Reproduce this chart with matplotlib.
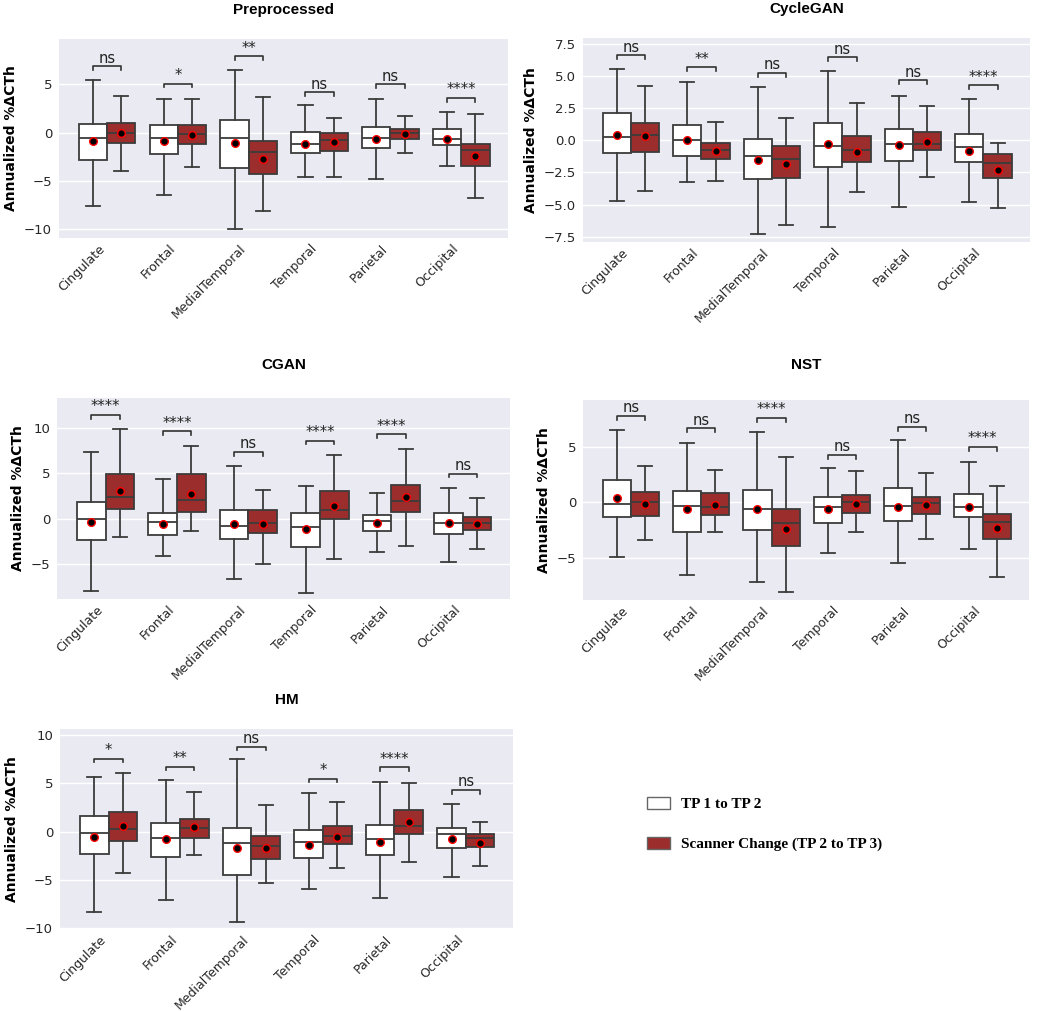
import matplotlib
matplotlib.use("Agg")
import matplotlib.pyplot as plt
from matplotlib.patches import Patch
import numpy as np

regions = ["Cingulate", "Frontal", "MedialTemporal", "Temporal", "Parietal", "Occipital"]

# rows per region: whisker low, Q1, median, Q3, whisker high, mean
pre_tp12 = [[-7.6, -2.86, -0.51, 0.95, 5.48, -0.85],
            [-6.5, -2.24, -0.51, 0.75, 3.50, -0.85],
            [-9.97, -3.64, -0.51, 1.29, 6.46, -1.05],
            [-4.56, -2.14, -1.16, 0.03, 2.82, -1.16],
            [-4.8, -1.63, -0.54, 0.58, 3.50, -0.65],
            [-3.44, -1.29, -0.65, 0.37, 2.14, -0.65]]
pre_scan = [[-3.95, -1.02, 0.0, 0.99, 3.84, -0.07],
            [-3.54, -1.19, -0.17, 0.75, 3.54, -0.20],
            [-8.06, -4.32, -2.04, -0.82, 3.67, -2.69],
            [-4.56, -1.94, -0.71, 0.0, 1.56, -0.99],
            [-2.14, -0.68, -0.07, 0.37, 1.73, -0.14],
            [-6.8, -3.44, -1.77, -1.16, 1.90, -2.38]]
pre_sig = ["ns", "*", "**", "ns", "ns", "****"]
pre_sig_y = [6.87, 5.07, 7.89, 4.18, 5.0, 3.6]

cyc_tp12 = [[-4.69, -1.0, 0.26, 2.14, 5.52, 0.39],
            [-3.25, -1.21, 0.0, 1.16, 4.54, 0.0],
            [-7.24, -2.99, -1.24, 0.13, 4.15, -1.52],
            [-6.73, -2.11, -0.44, 1.31, 5.36, -0.28],
            [-5.18, -1.57, -0.31, 0.90, 3.48, -0.39],
            [-4.77, -1.68, -0.52, 0.46, 3.22, -0.80]]
cyc_scan = [[-3.97, -0.88, 0.39, 1.34, 4.20, 0.31],
            [-3.17, -1.44, -0.77, -0.23, 1.39, -0.80],
            [-6.55, -2.94, -1.44, -0.44, 1.70, -1.86],
            [-4.02, -1.65, -0.72, 0.31, 2.91, -0.93],
            [-2.86, -0.75, -0.26, 0.62, 2.65, -0.10],
            [-5.28, -2.89, -1.73, -1.08, -0.18, -2.29]]
cyc_sig = ["ns", "**", "ns", "ns", "ns", "****"]
cyc_sig_y = [6.6, 5.67, 5.23, 6.44, 4.66, 4.28]

cgan_tp12 = [[-7.87, -2.28, -0.04, 1.91, 7.32, -0.29],
             [-4.12, -1.80, -0.37, 0.66, 4.34, -0.51],
             [-6.58, -2.21, -0.74, 1.03, 5.85, -0.51],
             [-8.09, -3.05, -0.85, 0.66, 3.57, -1.14],
             [-3.68, -1.29, -0.22, 0.48, 2.87, -0.40],
             [-4.71, -1.65, -0.40, 0.66, 3.38, -0.48]]
cgan_scan = [[-2.02, 1.14, 2.39, 4.96, 9.93, 3.09],
             [-1.29, 0.81, 2.13, 4.89, 7.98, 2.79],
             [-4.96, -1.51, -0.40, 0.96, 3.13, -0.51],
             [-4.38, 0.0, 1.03, 3.05, 6.99, 1.47],
             [-2.98, 0.77, 2.02, 3.75, 7.72, 2.43],
             [-3.35, -1.21, -0.40, 0.18, 2.35, -0.51]]
cgan_sig = ["****", "****", "ns", "****", "****", "ns"]
cgan_sig_y = [11.43, 9.63, 7.35, 8.6, 9.3, 4.96]

nst_tp12 = [[-4.91, -1.35, -0.18, 1.98, 6.53, 0.39],
            [-6.53, -2.66, -0.30, 0.99, 5.36, -0.57],
            [-7.22, -2.54, -0.60, 1.14, 6.32, -0.63],
            [-4.58, -1.89, -0.45, 0.45, 3.08, -0.63],
            [-5.45, -1.68, -0.33, 1.32, 5.57, -0.39],
            [-4.19, -1.29, -0.45, 0.72, 3.65, -0.45]]
nst_scan = [[-3.38, -1.23, 0.06, 0.93, 3.23, -0.12],
            [-2.72, -1.17, -0.39, 0.84, 2.87, -0.24],
            [-8.11, -3.92, -1.86, -0.63, 4.07, -2.37],
            [-2.72, -0.99, 0.0, 0.69, 2.78, -0.12],
            [-3.29, -1.02, -0.09, 0.48, 2.60, -0.24],
            [-6.74, -3.35, -1.77, -1.02, 1.44, -2.34]]
nst_sig = ["ns", "ns", "****", "ns", "ns", "****"]
nst_sig_y = [7.75, 6.65, 7.57, 4.25, 6.77, 4.97]

hm_tp12 = [[-8.34, -2.34, -0.17, 1.66, 5.62, -0.55],
           [-7.14, -2.66, -0.62, 0.86, 5.41, -0.72],
           [-9.34, -4.48, -1.21, 0.34, 7.52, -1.66],
           [-5.93, -2.72, -1.03, 0.14, 4.0, -1.34],
           [-6.86, -2.41, -0.79, 0.72, 5.10, -1.10],
           [-4.66, -1.72, -0.28, 0.34, 2.86, -0.72]]
hm_scan = [[-4.24, -0.97, 0.24, 2.0, 6.10, 0.62],
           [-2.41, -0.62, 0.34, 1.34, 4.10, 0.52],
           [-5.28, -2.79, -1.45, -0.45, 2.79, -1.72],
           [-3.72, -1.24, -0.48, 0.59, 3.10, -0.55],
           [-3.10, -0.24, 0.62, 2.28, 5.0, 0.97],
           [-3.55, -1.62, -0.69, -0.21, 1.0, -1.17]]
hm_sig = ["*", "**", "ns", "*", "****", "ns"]
hm_sig_y = [7.55, 6.72, 8.83, 5.48, 6.66, 4.31]

panels = [
    ("Preprocessed", pre_tp12, pre_scan, pre_sig, pre_sig_y, [-10, -5, 0, 5], (-10.9, 9.7),
     [59, 39, 508, 238], 18),
    ("CycleGAN", cyc_tp12, cyc_scan, cyc_sig, cyc_sig_y, [-7.5, -5, -2.5, 0, 2.5, 5, 7.5], (-7.9, 7.95),
     [583, 38, 1030, 242], 18),
    ("CGAN", cgan_tp12, cgan_scan, cgan_sig, cgan_sig_y, [-5, 0, 5, 10], (-8.8, 13.3),
     [57, 398, 510, 599], 21),
    ("NST", nst_tp12, nst_scan, nst_sig, nst_sig_y, [-5, 0, 5], (-8.8, 9.2),
     [583, 400, 1029, 600], 22),
    ("HM", hm_tp12, hm_scan, hm_sig, hm_sig_y, [-10, -5, 0, 5, 10], (-10.1, 10.65),
     [60, 729, 513, 929], 18),
]

W, H = 1050, 1011
RED = "#9b2d2d"
EDGE = "#3c3c3c"
BG = "#eaeaf2"

fig = plt.figure(figsize=(W / 100, H / 100), dpi=100)


def stats_from(rows):
    return [dict(whislo=r[0], q1=r[1], med=r[2], q3=r[3], whishi=r[4], mean=r[5], fliers=[]) for r in rows]


for title, tp12, scan, sig, sig_y, yticks, ylim, box, pad in panels:
    x0, y0, x1, y1 = box
    ax = fig.add_axes([x0 / W, 1 - y1 / H, (x1 - x0) / W, (y1 - y0) / H])
    ax.set_facecolor(BG)
    for sp in ax.spines.values():
        sp.set_visible(False)
    ax.grid(axis="y", color="white", linewidth=1.0)
    ax.set_axisbelow(True)
    pos = np.arange(len(regions))
    for rows, face, off in ((tp12, "white", -0.2), (scan, RED, 0.2)):
        ax.bxp(stats_from(rows), positions=pos + off, widths=0.4, patch_artist=True,
               showmeans=True, manage_ticks=False, capwidths=0.2,
               boxprops=dict(facecolor=face, edgecolor=EDGE, linewidth=1.3),
               medianprops=dict(color=EDGE, linewidth=1.3),
               whiskerprops=dict(color=EDGE, linewidth=1.3),
               capprops=dict(color=EDGE, linewidth=1.3),
               meanprops=dict(marker="o", markerfacecolor="black", markeredgecolor="red",
                              markeredgewidth=1.0, markersize=5.5))
    h = 0.018 * (ylim[1] - ylim[0])
    for i, (s, y) in enumerate(zip(sig, sig_y)):
        ax.plot([i - 0.2, i - 0.2, i + 0.2, i + 0.2], [y - h, y, y, y - h], color="#333333", lw=1.2)
        ax.text(i, y + 0.2 * h, s, ha="center", va="bottom", fontsize=10.5, color="#222222")
    ax.set_xlim(-0.68, 5.66)
    ax.set_ylim(*ylim)
    ax.set_yticks(yticks)
    ax.set_xticks(pos)
    ax.set_xticklabels(regions, rotation=45, ha="right", fontsize=9, color="#262626")
    ax.tick_params(axis="y", length=0, pad=5, labelsize=9.5, colors="#262626")
    ax.tick_params(axis="x", length=0, pad=3, colors="#262626")
    ax.set_ylabel("Annualized %ΔCTh", fontsize=10, fontweight="bold")
    ax.set_title(title, fontsize=11, fontweight="bold", family="Liberation Sans", pad=pad)

handles = [Patch(facecolor="white", edgecolor="#666666", label="TP 1 to TP 2"),
           Patch(facecolor=RED, edgecolor="#666666", label="Scanner Change (TP 2 to TP 3)")]
fig.legend(handles=handles, loc="upper left", bbox_to_anchor=(647 / W, 1 - 797 / H),
           frameon=False, borderpad=0, borderaxespad=0,
           prop=dict(family="Liberation Serif", weight="bold", size=11),
           handlelength=1.5, handleheight=0.8, labelspacing=1.7, handletextpad=0.7)

fig.savefig("out.png", dpi=100, facecolor="white")
